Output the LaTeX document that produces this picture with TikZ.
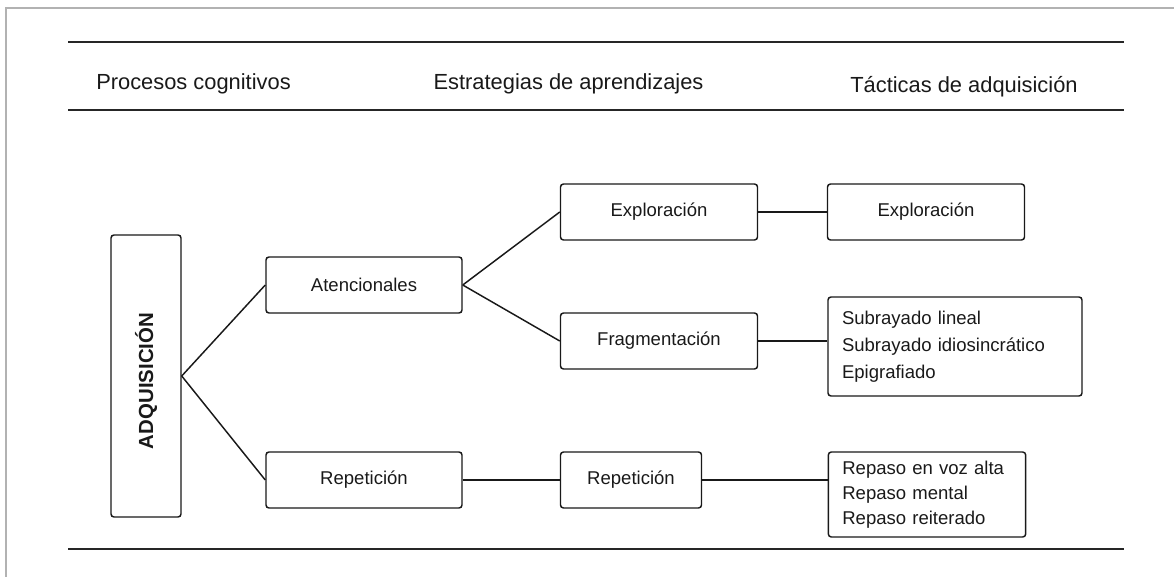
\documentclass[tikz,border=0pt]{standalone}
\usepackage{fontspec}
\setmainfont{Liberation Sans}
\begin{document}
\begin{tikzpicture}
[x=0.75pt,y=-0.75pt,
  boxdecorate/.style={shape=rectangle,draw=black!90,line width=1.1pt,rounded corners=2.25pt,inner sep=0pt,text=black!90,font=\fontsize{13.9}{19.5}\selectfont},
  listdecorate/.style={boxdecorate,align=left,inner xsep=10.5pt},
  headdecorate/.style={anchor=base,text=black!90,font=\fontsize{16.4}{19}\selectfont},
  linedecorate/.style={-,draw=black!90,line width=1.1pt},
  ruledecorate/.style={-,draw=black!85,line width=1.1pt},
  framedecorate/.style={-,draw=black!30,line width=1.5pt}]
\useasboundingbox (0,0) rectangle (1174,577);
%% outer frame, only top and left show
\draw[framedecorate] (6,577) -- (6,8) -- (1174,8);
%% rules of the table
\foreach \y in {42,110,549} {
  \draw[ruledecorate] (68,\y) -- (1124,\y);
}
%% column heads
\node (hproc) at (193.5,90) [headdecorate] {Procesos cognitivos};
\node (hestr) at (568.5,90) [headdecorate] {Estrategias de aprendizajes};
\node (htact) at (964,93) [headdecorate] {Tácticas de adquisición};
%% main box
\node (adq) at (146,376) [boxdecorate,minimum width=52.5pt,minimum height=211.5pt] {};
\node (adqtext) at (146,381) [rotate=90,text=black!90,font=\fontsize{15.3}{18}\selectfont\bfseries] {ADQUISICIÓN};
%% boxes with one line
\foreach \nodename/\x/\y/\w/\txt in {aten/364/285/196/Atencionales, repa/364/480/196/Repetición, expa/659/212/197/Exploración, frag/659/341/197/Fragmentación, repb/631/480/141/Repetición, expb/926/212/197/Exploración} {
  \node (\nodename) at (\x,\y) [boxdecorate,minimum width=\w*0.75pt,minimum height=42pt] {\txt};
}
%% boxes with lists
\node (sub) at (955,346.5) [listdecorate,text width=169.5pt,minimum height=74.25pt,font=\fontsize{13.9}{20.25}\selectfont] {Subrayado lineal\\Subrayado idiosincrático\\Epigrafiado};
\node (rep) at (927,494.5) [listdecorate,text width=127pt,minimum height=63.75pt,font=\fontsize{13.9}{18.75}\selectfont] {Repaso en voz alta\\Repaso mental\\Repaso reiterado};
%% edges or lines
\path
(adq.east) edge[linedecorate] (aten.west)
(adq.east) edge[linedecorate] (repa.west)
(aten.east) edge[linedecorate] (expa.west)
(aten.east) edge[linedecorate] (frag.west)
(expa.east) edge[linedecorate] (expb.west)
(frag.east) edge[linedecorate] (frag.east -| sub.west)
(repa.east) edge[linedecorate] (repb.west)
(repb.east) edge[linedecorate] (repb.east -| rep.west);
\end{tikzpicture}
\end{document}
